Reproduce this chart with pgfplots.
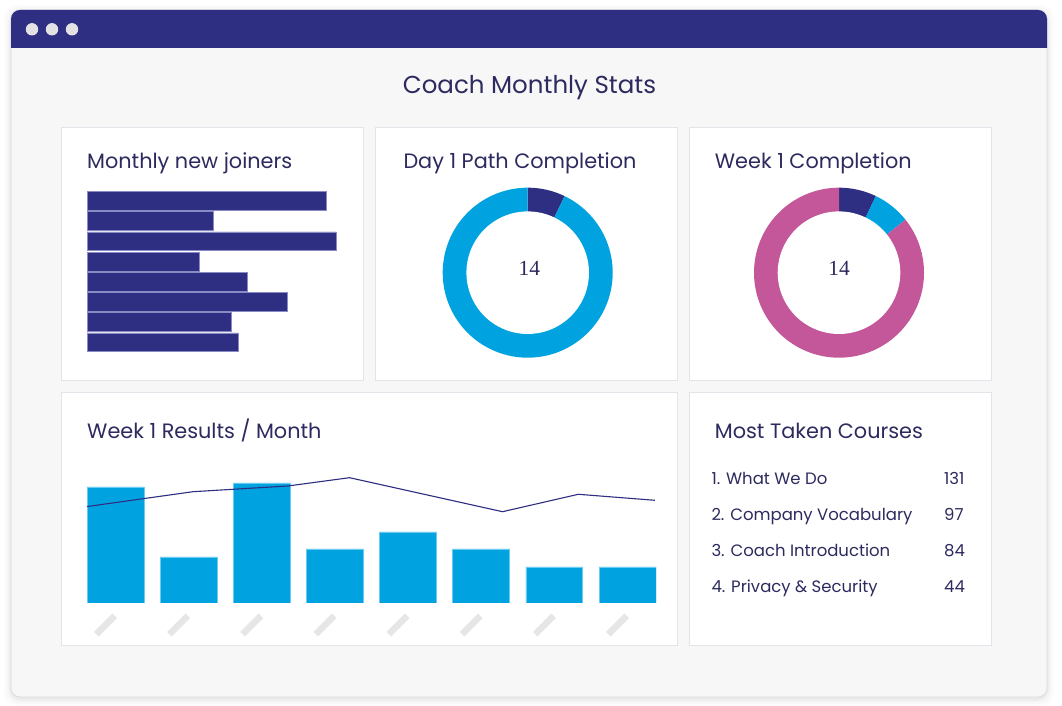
\documentclass[border=0pt]{standalone}
\usepackage{pgfplots}
\pgfplotsset{compat=1.18}
\usepackage{pgfplotstable}
\usepackage{fontspec}
\setmainfont{Poppins}
\newfontfamily\numfont{Liberation Serif}

\definecolor{navy}{HTML}{2E2E82}
\definecolor{navyedge}{HTML}{8A8AC4}
\definecolor{cyanbar}{HTML}{00A3DF}
\definecolor{cyanedge}{HTML}{6CCBF0}
\definecolor{pinkseg}{HTML}{C4579A}
\definecolor{ink}{HTML}{2C2A5E}
\definecolor{panelline}{HTML}{E3E3EA}
\definecolor{winbg}{HTML}{F7F7F8}
\definecolor{winline}{HTML}{DCDCE4}
\definecolor{dotgray}{HTML}{E2E2E4}
\definecolor{tickgray}{HTML}{E6E6E6}

% Monthly new joiners (one bar per month)
\pgfplotstableread{
row value
1 239
2 126
3 249
4 112
5 160
6 200
7 144
8 151
}\joiners

% Week 1 results per month
\pgfplotstableread{
month result
0 116
1 46
2 120
3 54
4 71
5 54
6 36
7 36
}\results

% Trend line over the results
\pgfplotstableread{
x y
-0.402 96.3
1.061 111.3
2.357 117.0
3.199 125.3
5.291 91.3
6.327 108.7
7.374 102.7
}\trend

% Donut segments
\def\dayDone{1}
\def\dayOpen{13}
\def\weekDone{1}
\def\weekMid{1}
\def\weekOpen{12}

\pgfplotsset{
  donut/.style={scale only axis, width=170pt, height=170pt,
    xmin=-1, xmax=1, ymin=-1, ymax=1, hide axis, clip=false},
}

\begin{document}
\begin{tikzpicture}
\path[use as bounding box] (0,0) rectangle (1062pt,706pt);
\fill[white] (0,0) rectangle (1062pt,706pt);

\begin{scope}[x=1pt, y=-1pt, shift={(0,706pt)}]
  % soft window shadow
  \foreach \s/\o in {7/0.010, 5/0.015, 3/0.020, 1.5/0.030}{
    \fill[black, opacity=\o, rounded corners=12] (11-\s,10-\s+2) rectangle (1047+\s,697+\s+2);
  }
  % window body
  \fill[winbg, draw=winline, line width=0.8, rounded corners=9] (11,10) rectangle (1047,697);
  % title bar
  \fill[navy] (11,48) {[rounded corners=9] -- (11,10) -- (1047,10)} -- (1047,48) -- cycle;
  \foreach \cx in {32,52,72}{ \fill[dotgray] (\cx,29.3) circle (6.2); }

  % dashboard title
  \node[anchor=base, text=ink, font=\fontsize{24.5}{27}\selectfont, inner sep=0] at (529.5,94) {Coach Monthly Stats};

  % panels
  \foreach \xa/\ya/\xb/\yb in {61/128/363/381, 375/128/677/381, 689/128/991/381, 61/393/677/646, 689/393/991/646}{
    \fill[white, draw=panelline, line width=1] (\xa,\ya) rectangle (\xb,\yb);
  }

  % panel titles
  \begin{scope}[every node/.style={anchor=base west, text=ink, inner sep=0, font=\fontsize{20.8}{23}\selectfont}]
    \node at (87,168.3) {Monthly new joiners};
    \node at (403.3,168.3) {Day 1 Path Completion};
    \node at (714.7,168.3) {Week 1 Completion};
    \node at (87,438.3) {Week 1 Results / Month};
    \node at (714.7,438.3) {Most Taken Courses};
  \end{scope}

  % course ranking
  \begin{scope}[every node/.style={anchor=base west, text=ink, inner sep=0, font=\fontsize{16.5}{20}\selectfont}]
    \node at (711.3,484.3) {1. What We Do};            \node at (944,484.3) {131};
    \node at (711.3,520.5) {2. Company Vocabulary};    \node at (944,520.5) {97};
    \node at (711.3,556.7) {3. Coach Introduction};    \node at (944,556.7) {84};
    \node at (711.3,593.0) {4. Privacy \& Security};   \node at (944,593.0) {44};
  \end{scope}
\end{scope}

% Monthly new joiners
\begin{axis}[at={(87pt,353.6pt)}, anchor=south west, scale only axis,
  width=260pt, height=161.7pt, xmin=0, xmax=260, ymin=0.5, ymax=8.5,
  y dir=reverse, hide axis, xbar, bar width=0.93]
  \addplot[fill=navy, draw=navyedge, line width=0.4pt] table[x=value, y=row] {\joiners};
\end{axis}

% Day 1 Path Completion
\begin{axis}[donut, at={(442.7pt,348.3pt)}, anchor=south west]
  \pgfmathsetmacro\aA{90-360*\dayDone/(\dayDone+\dayOpen)}
  \addplot[fill=navy, draw=none, domain=\aA:90, samples=30, variable=\t] ({cos(\t)},{sin(\t)}) -- (0,0) -- cycle;
  \addplot[fill=cyanbar, draw=none, domain=-270:\aA, samples=160, variable=\t] ({cos(\t)},{sin(\t)}) -- (0,0) -- cycle;
  \addplot[fill=white, draw=none, domain=0:360, samples=160, variable=\t] ({0.721*cos(\t)},{0.721*sin(\t)}) -- cycle;
  \node[text=ink, font=\numfont\fontsize{21.5}{24}\selectfont, inner sep=0] at (0.02,0.05) {14};
\end{axis}

% Week 1 Completion
\begin{axis}[donut, at={(754pt,348.3pt)}, anchor=south west]
  \pgfmathsetmacro\aA{90-360*\weekDone/(\weekDone+\weekMid+\weekOpen)}
  \pgfmathsetmacro\aB{90-360*(\weekDone+\weekMid)/(\weekDone+\weekMid+\weekOpen)}
  \addplot[fill=navy, draw=none, domain=\aA:90, samples=30, variable=\t] ({cos(\t)},{sin(\t)}) -- (0,0) -- cycle;
  \addplot[fill=cyanbar, draw=none, domain=\aB:\aA, samples=30, variable=\t] ({cos(\t)},{sin(\t)}) -- (0,0) -- cycle;
  \addplot[fill=pinkseg, draw=none, domain=-270:\aB, samples=160, variable=\t] ({cos(\t)},{sin(\t)}) -- (0,0) -- cycle;
  \addplot[fill=white, draw=none, domain=0:360, samples=160, variable=\t] ({0.721*cos(\t)},{0.721*sin(\t)}) -- cycle;
  \node[text=ink, font=\numfont\fontsize{21.5}{24}\selectfont, inner sep=0] at (0.0,0.05) {14};
\end{axis}

% Week 1 Results / Month
\begin{axis}[at={(87pt,103pt)}, anchor=south west, scale only axis,
  width=569pt, height=130pt, xmin=-0.389, xmax=7.389, ymin=0, ymax=130,
  axis line style={draw=none}, major tick length=0pt, ytick=\empty,
  xtick={0,...,7},
  xticklabel={\rotatebox{45}{\textcolor{tickgray}{\rule{26pt}{6.5pt}}}},
  xticklabel style={anchor=center, xshift=-10pt, yshift=-22pt, inner sep=0pt}]
  \addplot[ybar, bar width=0.778, fill=cyanbar, draw=cyanedge, line width=0.8pt] table[x=month, y=result] {\results};
  \addplot[navy, line width=1.1pt, mark=none] table[x=x, y=y] {\trend};
\end{axis}
\end{tikzpicture}
\end{document}
